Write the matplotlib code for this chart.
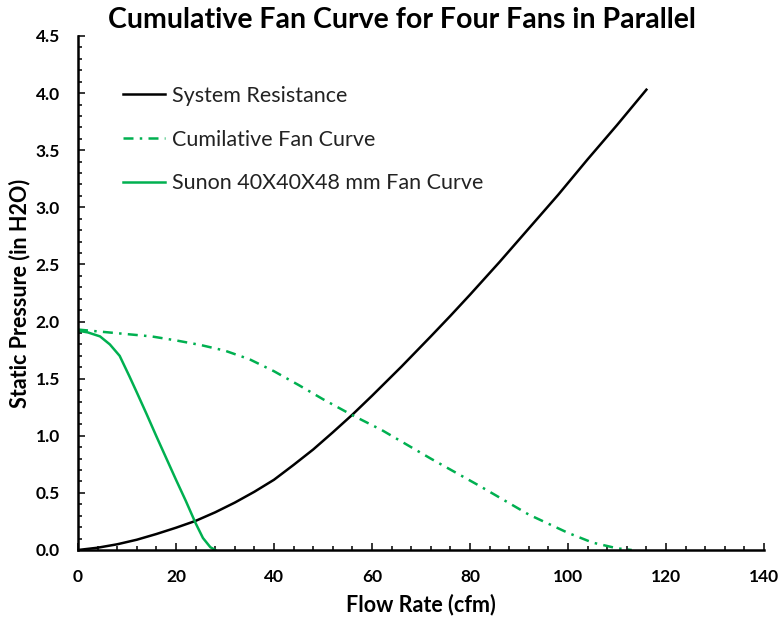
import matplotlib
matplotlib.use("Agg")
import matplotlib.pyplot as plt
from matplotlib.ticker import MultipleLocator, FormatStrFormatter

# --- data ---
sys_x = [0, 4, 8, 12, 16, 20, 24, 28, 32, 36, 40, 44, 48, 52, 56, 60, 66, 72, 76, 80, 86, 92, 98, 104, 110, 116]
sys_y = [0, 0.02, 0.05, 0.09, 0.14, 0.195, 0.255, 0.33, 0.415, 0.51, 0.615, 0.745, 0.88, 1.03, 1.185,
         1.35, 1.605, 1.87, 2.05, 2.235, 2.52, 2.815, 3.11, 3.42, 3.72, 4.03]

cum_x = [0, 5, 10, 15, 20, 25, 30, 35, 40, 45, 50, 56, 62, 72, 82, 92, 100, 105, 110, 113]
cum_y = [1.93, 1.91, 1.89, 1.87, 1.835, 1.795, 1.745, 1.67, 1.565, 1.445, 1.32, 1.18, 1.05, 0.80, 0.56,
         0.31, 0.15, 0.065, 0.015, 0.0]

sunon_x = [0, 2, 4.5, 6.5, 8.5, 10.5, 12, 14, 16, 18, 20, 22, 24, 25.5, 27, 28]
sunon_y = [1.92, 1.905, 1.87, 1.80, 1.70, 1.52, 1.38, 1.19, 0.995, 0.805, 0.615, 0.43, 0.235, 0.105, 0.025, 0.0]

labels = ["System Resistance", "Cumilative Fan Curve", "Sunon 40X40X48 mm Fan Curve"]
title = "Cumulative Fan Curve for Four Fans in Parallel"
xlabel = "Flow Rate (cfm)"
ylabel = "Static Pressure (in H2O)"

GREEN = "#00B050"
plt.rcParams['font.family'] = ['Lato', 'DejaVu Sans']

fig = plt.figure(figsize=(7.78, 6.2), dpi=100)
ax = fig.add_axes([78/778, 70/620, 686/778, 514/620])

ax.plot(sys_x, sys_y, color="black", lw=1.8, label=labels[0])
ax.plot(cum_x, cum_y, color=GREEN, lw=1.8, dashes=(4, 2.5, 1, 2.5), label=labels[1])
ax.plot(sunon_x, sunon_y, color=GREEN, lw=1.8, label=labels[2])

ax.set_xlim(0, 140)
ax.set_ylim(0, 4.5)
ax.xaxis.set_major_locator(MultipleLocator(20))
ax.xaxis.set_minor_locator(MultipleLocator(4))
ax.yaxis.set_major_locator(MultipleLocator(0.5))
ax.yaxis.set_minor_locator(MultipleLocator(0.1))
ax.yaxis.set_major_formatter(FormatStrFormatter('%.1f'))

for s in ['top', 'right']:
    ax.spines[s].set_visible(False)
for s in ['left', 'bottom']:
    ax.spines[s].set_linewidth(1.8)

ax.tick_params(which='major', direction='in', length=5, width=1.1, labelsize=12.5)
ax.tick_params(which='minor', direction='in', length=2.8, width=1.1)
ax.tick_params(axis='x', which='major', pad=14)
ax.tick_params(axis='y', which='major', pad=13)
for lab in ax.get_xticklabels() + ax.get_yticklabels():
    lab.set_fontweight('bold')

ax.set_xlabel(xlabel, fontsize=15.5, fontweight='bold', labelpad=6)
ax.set_ylabel(ylabel, fontsize=15.5, fontweight='bold', labelpad=4)

fig.text(402/778, 1 - 20/620, title, fontsize=20.5, fontweight='bold', ha='center', va='center')

leg = ax.legend(loc='upper left', bbox_to_anchor=(0.0373, 0.9405), frameon=False, fontsize=15.5,
                handlelength=1.95, handletextpad=0.33, labelspacing=1.1)
for t in leg.get_texts():
    t.set_color('#222222')

fig.savefig("out.png", dpi=100)
